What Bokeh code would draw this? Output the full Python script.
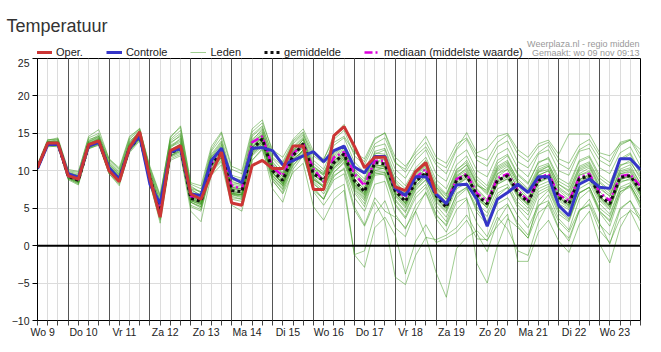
import numpy as np
from bokeh.plotting import figure
from bokeh.layouts import column
from bokeh.models import Range1d, FixedTicker, Grid, Span, Label, Legend, LegendItem, Title
from bokeh.embed import file_html
from bokeh.resources import INLINE

# ---------------- data ----------------
day_labels = ["Wo 9", "Do 10", "Vr 11", "Za 12", "Zo 13", "Ma 14", "Di 15", "Wo 16",
              "Do 17", "Vr 18", "Za 19", "Zo 20", "Ma 21", "Di 22", "Wo 23"]
# hours since Wo 9 00:00, 6-hourly
hours = list(range(6, 361, 6))

oper = [10.4, 13.7, 13.7, 9.35, 8.9, 13.5, 14.0, 10.0, 8.55, 13.1,
        15.2, 9.0, 3.8, 12.7, 13.35, 6.9, 6.2, 9.6, 12.5, 5.7,
        5.4, 10.7, 11.4, 10.3, 10.3, 13.3, 13.3, 7.5, 7.5, 14.7,
        15.9, 13.3, 10.4, 11.8, 11.8, 7.85, 7.35, 9.9, 11.1, 6.9]

controle = [10.3, 13.5, 13.5, 9.6, 9.1, 13.3, 13.8, 10.4, 8.9, 13.0,
            14.7, 8.2, 5.6, 12.5, 13.0, 6.9, 6.7, 11.35, 13.0, 9.1,
            8.4, 13.0, 13.1, 12.7, 10.8, 11.35, 12.0, 12.55, 11.2, 12.7,
            13.3, 10.5, 9.7, 11.9, 11.9, 7.65, 6.7, 9.2, 9.2, 6.9,
            5.6, 8.1, 8.2, 6.2, 2.6, 6.2, 7.1, 8.2, 7.1, 9.2,
            9.2, 5.35, 4.0, 8.2, 8.9, 7.8, 7.65, 11.6, 11.6, 10.15]

gemiddelde = [10.4, 13.6, 13.6, 9.3, 8.7, 13.4, 13.9, 10.2, 8.9, 13.0,
              14.6, 9.0, 4.6, 12.4, 13.0, 6.3, 5.9, 10.9, 12.3, 7.35,
              7.2, 12.9, 14.25, 10.0, 8.7, 12.0, 13.6, 9.6, 8.7, 11.1,
              12.25, 8.7, 7.2, 11.1, 10.9, 7.35, 5.9, 8.55, 9.8, 6.7,
              5.1, 8.7, 9.35, 6.7, 5.6, 8.7, 9.35, 7.1, 5.8, 8.7,
              9.35, 6.45, 5.6, 8.9, 9.35, 6.7, 5.6, 9.1, 9.35, 7.35]

mediaan = [10.4, 13.6, 13.6, 9.3, 8.8, 13.4, 13.9, 10.2, 8.9, 13.0,
           14.7, 9.0, 4.6, 12.5, 13.2, 6.6, 6.1, 11.0, 12.4, 8.0,
           7.6, 13.8, 14.6, 10.45, 9.35, 12.25, 13.6, 10.25, 8.55, 11.8,
           12.5, 9.6, 8.0, 11.35, 11.35, 7.5, 6.45, 9.1, 10.25, 6.9,
           5.6, 8.9, 9.6, 7.0, 5.9, 9.0, 9.6, 7.4, 6.0, 8.9,
           9.6, 6.8, 6.0, 9.1, 9.6, 7.1, 6.0, 9.3, 9.5, 7.9]

leden_01 = [10.6, 13.9, 14.0, 9.6, 9.2, 13.8, 14.4, 10.8, 9.5, 13.6,
            15.3, 9.8, 5.6, 13.4, 14.2, 7.4, 6.8, 11.8, 13.6, 8.6,
            8.1, 14.2, 15.4, 11.6, 10.1, 13.2, 14.6, 11.0, 9.8, 12.6,
            13.4, 10.2, 8.9, 12.4, 12.2, 8.8, 7.6, 10.1, 11.4, 8.3,
            6.9, 10.2, 11.1, 8.4, 7.2, 10.4, 11.2, 8.9, 7.6, 10.5,
            11.0, 8.2, 7.4, 10.6, 11.2, 8.6, 7.4, 10.8, 11.1, 9.2]
leden_02 = [10.2, 13.3, 13.2, 8.8, 8.1, 13.0, 13.4, 9.6, 8.2, 12.4,
            14.0, 8.2, 3.4, 11.6, 12.2, 5.2, 4.6, 9.8, 11.2, 6.2,
            5.9, 11.4, 12.8, 8.6, 7.1, 10.6, 12.4, 8.2, 7.3, 9.8,
            11.0, 7.1, 5.2, 9.4, 9.6, 5.6, 3.8, 6.9, 8.2, 4.9,
            3.2, 7.0, 7.8, 5.1, 3.9, 7.0, 7.8, 5.4, 4.1, 7.2,
            7.9, 4.8, 3.6, 7.1, 7.8, 5.0, 3.9, 7.6, 8.0, 5.8]
leden_03 = [10.5, 13.7, 13.5, 9.1, 8.5, 13.2, 13.7, 10.0, 8.6, 12.8,
            14.4, 8.8, 4.2, 12.0, 12.8, 6.0, 5.4, 10.4, 11.8, 6.9,
            6.6, 12.2, 13.4, 9.2, 7.8, 11.2, 12.6, 8.4, 6.9, 9.4,
            10.2, 5.2, 2.8, 6.4, 4.6, 3.8, 2.4, 4.6, 1.2, -3.6,
            -6.9, -0.4, 1.1, 2.0, 0.6, 3.8, 2.2, -0.7, -1.3, 3.1,
            5.8, 2.4, 0.6, 4.6, 6.2, 3.0, 0.2, 4.8, 6.0, 3.2]
leden_04 = [10.3, 13.5, 13.6, 9.4, 8.9, 13.5, 14.1, 10.4, 9.1, 13.2,
            14.9, 9.3, 4.9, 12.8, 13.4, 6.6, 6.1, 11.2, 12.7, 7.6,
            7.4, 13.2, 14.6, 9.8, 8.2, 11.4, 12.2, 7.8, 6.2, 8.8,
            9.6, 4.8, 2.6, 5.8, 3.2, -4.2, -5.2, -1.3, 1.1, 0.8,
            1.4, 2.4, 4.1, 1.6, -0.8, 3.2, 5.4, 3.0, 1.4, 5.2,
            6.8, 3.6, 2.1, 6.2, 7.4, 4.4, 2.6, 6.8, 8.2, 5.4]
leden_05 = [10.4, 13.6, 13.8, 9.5, 9.0, 13.6, 14.0, 10.3, 8.9, 13.1,
            14.6, 8.9, 4.4, 12.2, 13.2, 6.2, 5.6, 10.6, 12.0, 6.8,
            6.4, 12.6, 13.8, 8.8, 6.9, 9.8, 11.0, 5.2, 3.4, 6.2,
            7.4, -1.2, -2.9, 2.4, 3.8, 1.4, -3.8, 0.6, 2.8, 0.4,
            1.0, 1.8, 3.4, 0.9, 0.8, 2.6, 4.2, -2.1, -2.1, 1.8,
            3.4, 0.6, -0.9, 2.8, 4.6, 0.2, -2.3, 2.4, 4.8, 3.6]
leden_06 = [10.7, 14.1, 14.4, 10.0, 9.8, 14.6, 15.5, 11.6, 10.2, 14.4,
            15.7, 10.2, 6.4, 14.6, 15.8, 8.2, 7.6, 12.8, 15.0, 10.2,
            9.6, 15.2, 16.4, 12.8, 11.8, 14.2, 15.6, 12.6, 11.4, 14.8,
            16.2, 12.6, 11.2, 14.2, 15.1, 11.8, 10.6, 12.4, 13.8, 11.2,
            10.4, 13.0, 15.1, 12.4, 13.0, 14.6, 15.0, 12.8, 11.8, 13.6,
            14.1, 12.2, 14.9, 14.9, 14.9, 12.4, 12.0, 13.6, 14.1, 12.8]
leden_07 = [10.1, 13.4, 13.4, 9.0, 8.6, 13.2, 13.8, 10.1, 8.7, 12.9,
            14.4, 8.6, 4.0, 11.9, 12.6, 5.8, 5.2, 10.2, 11.6, 6.9,
            6.8, 12.4, 13.9, 9.6, 8.4, 12.4, 14.2, 10.2, 9.4, 11.8,
            12.8, 9.4, 7.8, 10.6, 10.2, 6.6, 5.0, 7.8, 9.2, 6.0,
            4.6, 8.2, 9.0, 6.2, 5.1, 8.2, 8.9, 6.4, 5.0, 8.0,
            8.6, 5.6, 4.8, 8.2, 8.8, 6.0, 4.8, 8.6, 8.8, 6.6]
leden_08 = [10.8, 13.8, 13.9, 9.8, 9.4, 14.0, 14.8, 11.2, 9.8, 14.0,
            15.0, 9.4, 5.0, 13.0, 14.4, 7.0, 6.4, 11.6, 13.0, 8.0,
            7.8, 13.6, 15.0, 10.6, 9.2, 12.8, 13.8, 9.8, 8.8, 11.6,
            12.6, 8.2, 6.8, 11.8, 11.4, 8.0, 6.6, 9.2, 10.6, 7.6,
            6.2, 9.6, 10.8, 8.2, 6.8, 10.0, 10.8, 8.4, 7.0, 9.8,
            10.6, 7.8, 6.8, 10.2, 10.8, 8.0, 6.9, 10.0, 10.4, 8.4]
leden_09 = [10.3, 13.5, 13.5, 9.2, 8.6, 13.3, 13.8, 10.0, 8.8, 12.9,
            14.5, 8.8, 4.3, 12.2, 13.0, 6.0, 5.5, 10.6, 12.0, 7.0,
            6.8, 12.6, 13.8, 9.4, 8.0, 11.4, 12.8, 8.6, 7.4, 10.2,
            11.4, 7.6, 6.0, 9.8, 9.4, 5.4, 3.6, 6.4, 7.8, 4.2,
            2.6, 5.8, 6.4, -2.4, -5.0, 0.0, 3.6, 2.4, 1.0, 6.0,
            7.4, 4.2, 3.2, 7.0, 7.8, 4.6, 3.2, 7.2, 7.8, 5.0]
leden_10 = [10.5, 13.8, 13.7, 9.3, 8.8, 13.5, 14.2, 10.5, 9.0, 13.3,
            15.0, 9.6, 5.2, 13.2, 13.8, 6.8, 6.2, 11.4, 12.8, 7.8,
            7.6, 13.6, 14.8, 10.4, 8.8, 12.6, 13.4, 9.0, 7.8, 10.8,
            12.0, 8.8, 7.6, 11.6, 11.8, 7.6, 5.8, 8.4, 9.8, 6.4,
            5.4, 8.8, 9.8, 7.0, 5.8, 9.2, 10.2, 7.6, 6.2, 9.4,
            10.0, 7.0, 6.0, 9.4, 10.0, 7.2, 6.0, 9.6, 10.0, 7.8]
leden_11 = [10.9, 14.2, 14.1, 9.9, 9.6, 14.2, 14.6, 11.0, 9.6, 13.8,
            15.4, 10.0, 6.0, 14.0, 15.0, 7.6, 7.2, 12.2, 14.0, 9.0,
            8.8, 14.8, 16.0, 11.8, 10.6, 13.8, 15.0, 11.4, 10.2, 13.4,
            14.4, 11.2, 9.8, 13.2, 13.6, 10.2, 9.0, 11.4, 12.8, 9.6,
            8.6, 11.8, 12.8, 10.0, 9.2, 12.2, 13.0, 10.4, 9.2, 12.2,
            12.8, 10.0, 9.4, 12.6, 13.0, 10.4, 9.6, 12.4, 13.2, 10.6]
leden_12 = [10.2, 13.2, 13.3, 8.9, 8.3, 12.9, 13.5, 9.8, 8.4, 12.6,
            14.2, 8.4, 3.6, 11.8, 12.4, 5.4, 4.8, 10.0, 11.4, 6.4,
            6.2, 12.0, 13.2, 9.0, 7.6, 11.0, 12.8, 8.8, 8.0, 10.6,
            11.8, 8.4, 7.0, 10.8, 10.6, 7.0, 5.6, 8.8, 10.4, 7.4,
            5.8, 9.0, 9.6, 6.8, 5.4, 8.6, 9.6, 7.2, 5.8, 9.0,
            9.4, 6.6, 5.4, 8.8, 9.6, 6.4, 5.2, 8.8, 9.4, 7.0]
leden_13 = [10.4, 13.5, 13.6, 9.2, 8.7, 13.4, 13.9, 10.2, 8.8, 13.0,
            14.6, 9.0, 4.6, 12.4, 13.0, 6.4, 5.8, 10.8, 12.2, 7.2,
            7.0, 12.8, 14.2, 10.2, 9.0, 12.2, 13.4, 9.4, 8.4, 11.0,
            12.0, 8.2, 6.6, 10.0, 9.8, 6.2, 4.6, 7.6, 8.8, 5.4,
            3.8, 6.8, 7.8, 4.4, 2.8, 5.6, 6.4, 4.0, 2.4, 5.4,
            6.0, 3.2, 1.8, 4.8, 5.4, 2.0, 0.4, 3.6, 4.6, 1.8]
leden_14 = [10.6, 13.9, 13.8, 9.7, 9.3, 13.9, 14.6, 11.4, 10.0, 14.2,
            15.5, 10.4, 6.6, 14.2, 15.4, 8.0, 7.0, 12.6, 14.4, 9.4,
            9.0, 14.6, 15.8, 12.2, 11.0, 13.6, 14.8, 12.0, 11.0, 13.8,
            14.6, 12.4, 11.6, 14.4, 15.0, 11.2, 9.8, 12.0, 13.2, 10.8,
            9.6, 12.8, 14.2, 11.4, 10.6, 13.2, 14.0, 11.2, 10.4, 12.4,
            13.4, 11.0, 10.2, 12.8, 13.6, 11.4, 10.6, 13.4, 14.1, 11.6]
leden_15 = [10.3, 13.6, 13.6, 9.0, 8.2, 13.0, 13.6, 9.6, 8.0, 12.6,
            14.2, 8.4, 3.0, 11.4, 12.0, 4.6, 3.2, 9.4, 10.8, 5.4,
            4.6, 11.4, 13.0, 7.6, 5.8, 10.2, 12.0, 7.4, 6.2, 9.8,
            11.2, 7.4, 5.6, 9.6, 9.8, 6.0, 4.4, 7.4, 8.8, 5.8,
            4.4, 7.6, 8.4, 5.6, 4.4, 7.6, 8.2, 5.8, 4.6, 7.6,
            8.2, 5.2, 4.0, 7.6, 8.4, 5.6, 4.2, 7.8, 8.4, 6.2]
leden_16 = [10.4, 13.6, 13.7, 9.4, 8.9, 13.6, 14.2, 10.6, 9.2, 13.4,
            14.8, 9.2, 4.8, 12.8, 13.6, 6.6, 6.0, 11.2, 12.6, 7.4,
            7.0, 12.8, 14.0, 9.8, 8.2, 11.6, 12.6, 7.2, 5.4, 7.4,
            8.2, -1.2, -0.7, 4.2, 6.0, 2.4, 1.2, 4.6, 7.2, 4.0,
            2.8, 6.4, 7.6, 4.8, 3.2, 6.6, 7.8, 5.0, 3.4, 6.8,
            7.6, 4.6, 3.4, 7.0, 7.8, 4.6, 3.4, 7.2, 8.0, 5.6]
leden_17 = [10.6, 13.7, 13.5, 9.1, 8.5, 13.6, 14.3, 10.6, 9.3, 13.5,
            15.1, 9.4, 5.4, 13.6, 14.8, 7.6, 6.6, 11.8, 13.4, 8.4,
            8.2, 14.0, 15.6, 11.2, 9.6, 12.4, 13.0, 10.4, 9.6, 12.2,
            13.2, 10.0, 8.4, 12.2, 12.8, 8.6, 7.0, 9.6, 11.0, 8.0,
            6.8, 10.0, 11.4, 8.8, 7.6, 11.0, 12.0, 9.4, 8.2, 11.2,
            11.6, 8.6, 7.8, 11.2, 11.8, 9.0, 8.0, 11.4, 12.2, 9.4]
leden_18 = [10.2, 13.4, 13.6, 9.3, 8.8, 13.1, 13.6, 10.0, 8.8, 12.8,
            14.4, 8.6, 4.4, 12.4, 12.8, 6.2, 5.8, 10.6, 12.0, 7.0,
            6.8, 13.0, 14.6, 10.2, 8.6, 12.6, 14.2, 10.0, 8.4, 11.4,
            12.4, 9.0, 7.4, 11.4, 11.0, 7.2, 5.6, 8.4, 9.6, 6.8,
            5.6, 9.2, 10.0, 7.4, 6.0, 9.6, 10.2, 7.6, 6.0, 9.4,
            10.0, 6.8, 5.6, 9.4, 9.8, 6.6, 5.4, 9.6, 9.8, 7.4]
leden_19 = [10.5, 13.6, 13.7, 9.3, 8.6, 13.3, 13.9, 10.1, 8.6, 12.9,
            14.6, 8.8, 4.0, 12.0, 12.8, 5.8, 5.0, 10.2, 11.8, 6.6,
            6.2, 12.2, 13.6, 9.0, 7.4, 10.8, 12.0, 7.6, 6.2, 9.2,
            10.4, 6.4, 4.6, 8.2, 8.6, 4.2, 2.2, 5.4, 7.0, 3.6,
            1.8, 4.8, 6.2, 3.0, 1.2, 4.6, 5.6, 2.6, 1.0, 4.4,
            5.4, 2.2, 1.0, 4.6, 5.6, 2.8, 1.4, 5.0, 6.0, 3.8]
leden_20 = [10.4, 13.8, 14.2, 9.6, 9.1, 13.7, 14.1, 10.3, 8.9, 13.2,
            14.8, 9.0, 4.7, 12.6, 13.4, 6.6, 6.0, 11.0, 12.4, 7.6,
            7.6, 13.4, 14.6, 10.4, 9.4, 12.2, 13.8, 10.2, 9.0, 11.4,
            12.2, 8.6, 7.2, 11.2, 11.6, 8.4, 7.0, 9.6, 10.8, 7.8,
            6.2, 9.2, 10.4, 8.0, 7.4, 10.6, 11.4, 8.6, 7.4, 10.2,
            10.8, 8.2, 7.2, 10.4, 11.0, 8.4, 7.2, 10.6, 11.4, 8.8]
leden_21 = [10.5, 13.9, 13.9, 9.7, 9.4, 13.9, 14.5, 10.9, 9.6, 13.7,
            15.2, 9.9, 5.9, 13.8, 14.6, 7.8, 7.2, 12.0, 13.8, 8.8,
            8.4, 13.8, 14.8, 10.8, 9.6, 12.8, 14.2, 10.6, 9.6, 12.4,
            13.2, 9.8, 8.6, 12.6, 13.0, 9.4, 8.0, 10.4, 11.8, 8.8,
            7.6, 10.8, 12.0, 9.2, 8.0, 11.4, 12.2, 9.6, 8.4, 11.0,
            11.8, 9.0, 8.2, 11.4, 12.0, 9.4, 8.4, 11.6, 12.4, 9.8]
leden_22 = [10.2, 13.4, 13.4, 9.1, 8.4, 13.1, 13.7, 9.9, 8.5, 12.7,
            14.3, 8.6, 4.1, 12.0, 12.6, 5.8, 5.2, 10.2, 11.8, 6.8,
            6.6, 12.4, 13.6, 9.4, 8.0, 11.6, 13.2, 9.2, 8.0, 10.8,
            11.8, 8.0, 6.4, 10.2, 10.4, 6.8, 5.2, 8.0, 9.4, 6.2,
            4.8, 8.0, 9.0, 6.4, 5.2, 8.4, 9.2, 6.8, 5.4, 8.4,
            9.0, 6.0, 5.0, 8.4, 9.2, 6.2, 5.0, 8.4, 9.0, 6.8]
leden_23 = [10.6, 13.8, 13.8, 9.5, 9.0, 13.7, 14.3, 10.7, 9.4, 13.5,
            15.0, 9.5, 5.3, 13.3, 14.0, 7.2, 6.6, 11.6, 13.2, 8.2,
            8.0, 13.8, 15.2, 11.0, 9.8, 13.0, 14.4, 10.6, 9.4, 12.0,
            13.0, 9.6, 8.2, 11.8, 12.0, 8.2, 6.8, 9.4, 10.8, 7.8,
            6.6, 9.8, 10.8, 8.2, 7.0, 10.2, 11.0, 8.4, 7.2, 10.0,
            10.6, 7.6, 6.6, 10.0, 10.6, 7.8, 6.6, 10.2, 10.8, 8.2]
leden_24 = [10.3, 13.6, 13.5, 9.2, 8.7, 13.3, 13.8, 10.1, 8.7, 12.9,
            14.5, 8.9, 4.5, 12.4, 13.1, 6.2, 5.7, 10.8, 12.2, 7.2,
            7.0, 12.6, 14.0, 9.8, 8.4, 11.8, 13.4, 9.4, 8.6, 11.2,
            12.4, 8.6, 7.2, 10.8, 10.6, 7.0, 5.6, 8.4, 9.8, 6.6,
            5.2, 8.4, 9.4, 6.6, 5.4, 8.8, 9.6, 7.0, 5.6, 8.8,
            9.4, 6.4, 5.4, 8.8, 9.4, 6.6, 5.4, 9.0, 9.4, 7.2]
leden_25 = [10.8, 14.0, 14.3, 10.2, 9.9, 14.4, 15.0, 11.6, 10.4, 14.6,
            15.6, 10.6, 6.8, 14.4, 16.0, 8.4, 8.0, 13.2, 15.2, 10.6,
            10.0, 15.6, 16.8, 12.4, 11.2, 14.0, 15.2, 12.2, 11.6, 14.2,
            15.4, 12.0, 10.8, 13.6, 14.4, 11.0, 10.2, 12.8, 14.6, 11.8,
            11.0, 13.6, 14.4, 12.0, 11.4, 13.8, 14.8, 12.2, 11.2, 13.2,
            13.8, 11.6, 11.0, 13.4, 14.2, 12.0, 11.2, 13.8, 14.2, 12.2]
leden_26 = [10.4, 13.7, 13.6, 9.4, 8.8, 13.4, 14.0, 10.2, 8.8, 13.0,
            14.7, 9.2, 4.9, 12.6, 13.3, 6.4, 5.9, 11.0, 12.4, 7.5,
            7.3, 13.0, 14.4, 10.0, 8.6, 12.0, 13.6, 9.6, 8.4, 11.0,
            12.2, 8.4, 7.0, 10.4, 10.6, 6.8, 5.4, 8.0, 9.4, 6.4,
            5.0, 8.6, 9.6, 6.6, 5.4, 8.6, 9.4, 6.8, 5.6, 8.4,
            9.2, 6.2, 5.2, 8.6, 9.2, 6.4, 5.2, 8.8, 9.2, 7.0]
leden_27 = [10.5, 13.5, 13.7, 9.0, 8.4, 13.2, 13.9, 10.4, 9.0, 13.2,
            14.8, 9.2, 4.6, 12.6, 13.6, 6.8, 6.2, 11.4, 12.8, 7.8,
            7.6, 13.2, 14.4, 10.6, 9.2, 12.4, 13.2, 9.0, 7.8, 10.4,
            11.6, 7.8, 6.2, 10.0, 10.4, 7.4, 6.2, 9.0, 10.2, 7.0,
            5.8, 9.4, 10.2, 7.6, 6.2, 9.6, 10.6, 8.0, 6.4, 9.8,
            10.2, 7.4, 6.2, 9.6, 10.4, 7.6, 6.6, 9.8, 10.2, 8.0]
leden_28 = [10.3, 13.6, 13.6, 9.3, 8.6, 13.4, 14.0, 10.3, 8.9, 13.1,
            14.6, 9.1, 4.5, 12.4, 13.0, 6.0, 5.6, 10.6, 12.2, 7.0,
            6.8, 12.8, 14.2, 9.8, 8.2, 11.4, 12.8, 8.8, 7.8, 10.4,
            11.6, 8.0, 6.8, 10.6, 10.8, 7.2, 5.8, 8.6, 9.8, 6.4,
            5.0, 8.2, 9.2, 6.4, 5.0, 8.2, 9.0, 6.6, 5.4, 8.6,
            9.2, 6.4, 5.4, 8.8, 9.4, 6.6, 5.4, 9.0, 9.2, 6.8]

leden = [leden_01, leden_02, leden_03, leden_04, leden_05, leden_06, leden_07,
         leden_08, leden_09, leden_10, leden_11, leden_12, leden_13, leden_14,
         leden_15, leden_16, leden_17, leden_18, leden_19, leden_20, leden_21,
         leden_22, leden_23, leden_24, leden_25, leden_26, leden_27, leden_28]

y_ticks = [-10, -5, 0, 5, 10, 15, 20, 25]

# ---------------- styles ----------------
FONT = "Liberation Sans"
STY_OPER = dict(line_color="#cc3535", line_width=3)
STY_CTRL = dict(line_color="#3535c8", line_width=3)
STY_LID = dict(line_color="#3f9c22", line_alpha=0.5, line_width=1)
STY_MEAN = dict(line_color="#111111", line_width=3, line_dash="3 3")
STY_MED = dict(line_color="#dd00dd", line_width=2.5, line_dash="8 3 2 3")

# ---------------- header (title, legend, credits) ----------------
# header frame is aligned with the chart frame (x 37..640, y 35..58 of the page)
head = figure(width=661, height=58, output_backend="svg", toolbar_location=None,
              x_range=Range1d(37, 640), y_range=Range1d(58, 35),
              min_border_left=37, min_border_right=21, min_border_top=35,
              min_border_bottom=0, x_axis_location=None, y_axis_location=None)
head.title = Title(text="Temperatuur", align="left", offset=-31, standoff=0,
                   text_font_size="18px", text_font=FONT, text_color="#333333",
                   text_font_style="normal")
head.outline_line_color = None
head.xgrid.visible = False
head.ygrid.visible = False
head.background_fill_color = "white"
head.border_fill_color = "white"

# legend sample renderers (kept outside the visible range)
h_oper = head.line(x=[0, 1], y=[0, 0], **STY_OPER)
h_ctrl = head.line(x=[0, 1], y=[0, 0], **STY_CTRL)
h_lid = head.line(x=[0, 1], y=[0, 0], **STY_LID)
h_mean = head.line(x=[0, 1], y=[0, 0], **STY_MEAN)
h_med = head.line(x=[0, 1], y=[0, 0], **STY_MED)

legend = Legend(items=[
    LegendItem(label="Oper.", renderers=[h_oper]),
    LegendItem(label="Controle", renderers=[h_ctrl]),
    LegendItem(label="Leden", renderers=[h_lid]),
    LegendItem(label="gemiddelde", renderers=[h_mean]),
    LegendItem(label="mediaan (middelste waarde)", renderers=[h_med]),
], location=(-1, 0), orientation="horizontal", spacing=23, padding=0, margin=0,
    glyph_width=16, glyph_height=10, label_standoff=4, label_height=10,
    label_text_font_size="11px", label_text_font=FONT, label_text_color="#222222",
    background_fill_alpha=0, border_line_alpha=0)
head.add_layout(legend)

head.add_layout(Label(x=639, y=43, text="Weerplaza.nl - regio midden", text_align="right",
                      text_baseline="middle", text_font_size="9px", text_font=FONT,
                      text_color="#999999"))
head.add_layout(Label(x=639, y=52.5, text="Gemaakt: wo 09 nov 09:13", text_align="right",
                      text_baseline="middle", text_font_size="9px", text_font=FONT,
                      text_color="#999999"))

# ---------------- main chart ----------------
p = figure(width=661, height=294, output_backend="svg", toolbar_location=None,
           x_range=Range1d(6, 360), y_range=Range1d(-10, 25),
           min_border_left=37, min_border_right=21, min_border_top=0,
           min_border_bottom=32)
p.title = None
p.background_fill_color = "white"
p.border_fill_color = "white"
p.outline_line_color = "black"
p.outline_line_width = 1

p.xgrid.visible = False
p.ygrid.ticker = FixedTicker(ticks=y_ticks)
p.ygrid.grid_line_color = "#dcdcdc"
six_h = list(range(6, 361, 6))
midnights = list(range(24, 361, 24))
p.add_layout(Grid(dimension=0, ticker=FixedTicker(ticks=six_h), grid_line_color="#dcdcdc"))
p.add_layout(Grid(dimension=0, ticker=FixedTicker(ticks=midnights), grid_line_color="#555555"))

p.yaxis.ticker = FixedTicker(ticks=y_ticks)
p.yaxis.minor_tick_line_color = None
p.yaxis.major_tick_out = 5
p.yaxis.major_tick_in = 0
p.yaxis.major_label_standoff = 3
p.yaxis.major_label_text_font_size = "10.5px"
p.yaxis.major_label_text_font = FONT
p.yaxis.major_label_text_color = "#222222"
p.yaxis.axis_line_color = "black"
p.yaxis.major_tick_line_color = "black"

label_pos = [d * 24 + 9 for d in range(len(day_labels))]
p.xaxis.ticker = FixedTicker(ticks=label_pos, minor_ticks=six_h)
p.xaxis.major_label_overrides = {lp: lab for lp, lab in zip(label_pos, day_labels)}
p.xaxis.major_tick_line_color = None
p.xaxis.major_tick_out = 0
p.xaxis.major_tick_in = 0
p.xaxis.minor_tick_out = 5
p.xaxis.minor_tick_in = 0
p.xaxis.minor_tick_line_color = "#444444"
p.xaxis.major_label_standoff = 0
p.xaxis.major_label_text_font_size = "10.5px"
p.xaxis.major_label_text_font = FONT
p.xaxis.major_label_text_color = "#222222"
p.xaxis.axis_line_color = "black"

for m in leden:
    p.line(hours, m, **STY_LID)

p.add_layout(Span(location=0, dimension="width", line_color="black", line_width=2))

p.line(hours, mediaan, **STY_MED)
p.line(hours, gemiddelde, **STY_MEAN)
p.line(hours, controle, **STY_CTRL)
p.line(hours[:len(oper)], oper, **STY_OPER)

layout = column(head, p, spacing=0)
open("out.html", "w").write(file_html(layout, INLINE))
